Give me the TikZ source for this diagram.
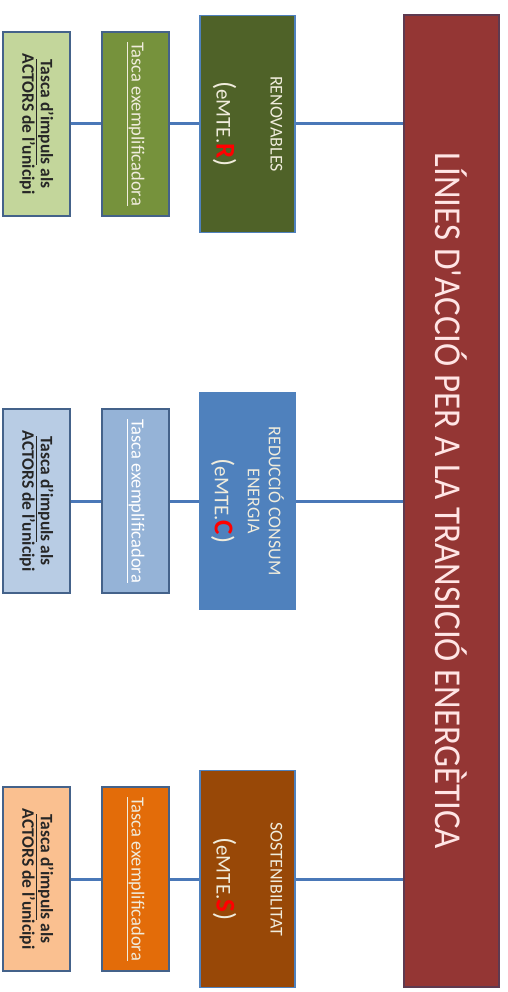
\documentclass[tikz,border=0pt]{standalone}
\usepackage{fontspec}
\setmainfont{Carlito}
\newfontfamily\titlefont[FakeStretch=0.92]{Carlito}
\usetikzlibrary{positioning}

\definecolor{titlered}{HTML}{943634}
\definecolor{titleedge}{HTML}{5E3A50}
\definecolor{edgeblue}{HTML}{4F81BD}
\definecolor{edgedark}{HTML}{44628A}
\definecolor{linkblue}{HTML}{4A78B8}
\definecolor{renone}{HTML}{4F6228}
\definecolor{rentwo}{HTML}{76923C}
\definecolor{renthree}{HTML}{C3D69B}
\definecolor{conone}{HTML}{4F81BD}
\definecolor{contwo}{HTML}{95B3D7}
\definecolor{conthree}{HTML}{B8CCE4}
\definecolor{susone}{HTML}{984807}
\definecolor{sustwo}{HTML}{E36C09}
\definecolor{susthree}{HTML}{FAC090}
\definecolor{lighttext}{HTML}{F0ECDC}

\newcommand{\emte}[1]{{\fontsize{27}{27}\selectfont(}{\fontsize{21}{21}\selectfont eMTE.}{\color{red}\bfseries\fontsize{27}{27}\selectfont #1}{\fontsize{27}{27}\selectfont)}}

\tikzset{
	box/.style={rectangle, rotate=-90, inner sep=0pt, align=center, line width=1.2pt},
	head/.style={box, fill=titlered, draw=titleedge, line width=1.5pt, minimum width=972pt, minimum height=95pt, text=white!90!red, font=\titlefont\fontsize{38}{42}\selectfont},
	lvlone/.style={box, draw=edgeblue, minimum width=217pt, minimum height=95pt, text=lighttext, font=\fontsize{18}{21}\selectfont},
	lvltwo/.style={box, draw=edgedark, line width=1.6pt, minimum width=184pt, minimum height=67pt, text=lighttext, font=\fontsize{18.5}{21}\selectfont},
	lvlthree/.style={box, draw=edgedark, line width=1.6pt, minimum width=184pt, minimum height=67pt, text=black!85, font=\bfseries\fontsize{17.5}{18.5}\selectfont},
	link/.style={draw=linkblue, line width=3pt},
}

\begin{document}
\begin{tikzpicture}[x=1pt, y=-1pt]
	\useasboundingbox (0,0) rectangle (507,992);

	\node[head] (main) at (451.5,501) {LÍNIES D'ACCIÓ PER A LA TRANSICIÓ ENERGÈTICA};

	% renovables
	\node[lvlone, fill=renone] (r1) at (247.5,124) {RENOVABLES\\[33pt]\emte{R}};
	\node[lvltwo, fill=rentwo] (r2) at (135.5,124) {\underline{Tasca exemplificadora}};
	\node[lvlthree, fill=renthree] (r3) at (36.5,124) {\underline{Tasca d'impuls} als\\ACTORS de l'unicipi};

	% consum
	\node[lvlone, fill=conone] (c1) at (247.5,501) {REDUCCIÓ CONSUM\\ENERGIA\\[12pt]\emte{C}};
	\node[lvltwo, fill=contwo, text=white] (c2) at (135.5,501) {\underline{Tasca exemplificadora}};
	\node[lvlthree, fill=conthree] (c3) at (36.5,501) {\underline{Tasca d'impuls} als\\ACTORS de l'unicipi};

	% sostenibilitat
	\node[lvlone, fill=susone] (s1) at (247.5,879) {SOSTENIBILITAT\\[33pt]\emte{S}};
	\node[lvltwo, fill=sustwo] (s2) at (135.5,879) {\underline{Tasca exemplificadora}};
	\node[lvlthree, fill=susthree] (s3) at (36.5,879) {\underline{Tasca d'impuls} als\\ACTORS de l'unicipi};

	\draw[link] (main.south |- r1.north) -- (r1.north);
	\draw[link] (r1.south) -- (r2.north);
	\draw[link] (r2.south) -- (r3.north);
	\draw[link] (main.south |- c1.north) -- (c1.north);
	\draw[link] (c1.south) -- (c2.north);
	\draw[link] (c2.south) -- (c3.north);
	\draw[link] (main.south |- s1.north) -- (s1.north);
	\draw[link] (s1.south) -- (s2.north);
	\draw[link] (s2.south) -- (s3.north);
\end{tikzpicture}
\end{document}
